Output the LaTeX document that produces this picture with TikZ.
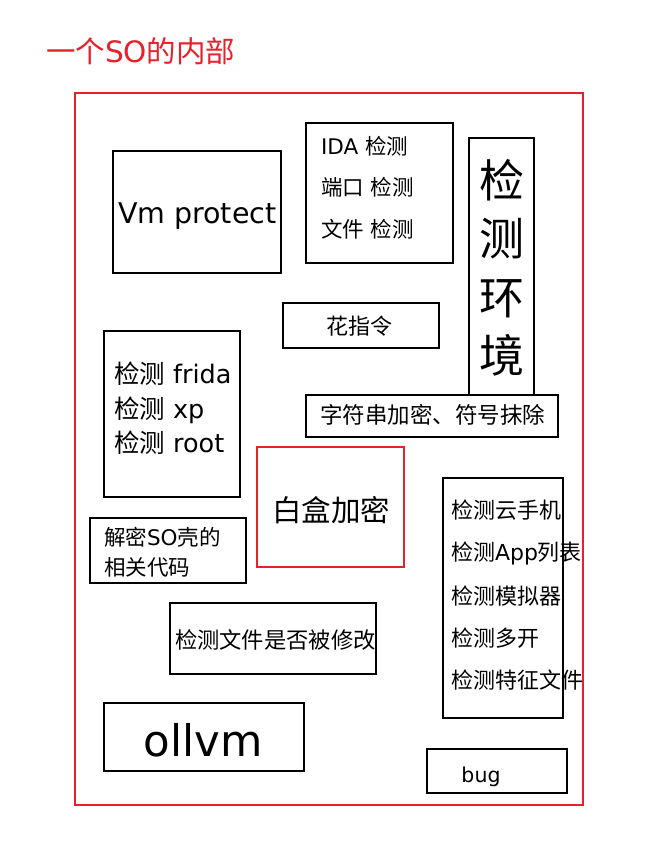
\documentclass[tikz,border=0pt]{standalone}
\usepackage{fontspec}
\setmainfont{Noto Sans CJK SC}
\newfontfamily\lat{DejaVu Sans}
\definecolor{redline}{HTML}{E8202A}
\begin{document}
\begin{tikzpicture}[x=1pt,y=-1pt,
  box/.style={draw=black, line width=2pt, inner sep=0pt, outer sep=0pt},
  redbox/.style={draw=redline, line width=2pt, inner sep=0pt, outer sep=0pt},
  txt/.style={inner sep=0pt, outer sep=0pt, text=black},
  fs/.code={\pgfmathsetmacro\myth{0.88*#1}\pgfmathsetmacro\mytd{0.12*#1}%
    \edef\mytmp{\noexpand\tikzset{font=\noexpand\fontsize{#1}{#1}\noexpand\selectfont,
      text height=\myth pt, text depth=\mytd pt}}\mytmp}]
\useasboundingbox (0,0) rectangle (669,858);
% title
\node[txt, anchor=west, text=redline, fs=29.5] (title) at (46,51) {一个{\lat SO}的内部};
% outer frame
\node[redbox, minimum width=508pt, minimum height=712pt] (outer) at (329,449) {};
% boxes
\node[box, minimum width=168pt, minimum height=122pt] (vm) at (197,212) {};
\node[box, minimum width=147pt, minimum height=140pt] (ida) at (379.5,193) {};
\node[box, minimum width=65pt, minimum height=257pt] (env) at (501.5,266.5) {};
\node[box, minimum width=156pt, minimum height=45pt] (flower) at (361,325.5) {};
\node[box, minimum width=252pt, minimum height=42pt] (str) at (432,416) {};
\node[box, minimum width=136pt, minimum height=166pt] (frida) at (172,414) {};
\node[redbox, minimum width=147pt, minimum height=120pt] (wb) at (330.5,507) {};
\node[box, minimum width=156pt, minimum height=65pt] (shell) at (168,550.5) {};
\node[box, minimum width=120pt, minimum height=240pt] (cloud) at (503,598) {};
\node[box, minimum width=206pt, minimum height=71pt] (mod) at (273,638.5) {};
\node[box, minimum width=200pt, minimum height=68pt] (ollvm) at (204,737) {};
\node[box, minimum width=140pt, minimum height=44pt] (bug) at (497,771) {};
% texts
\node[txt, anchor=west, fs=28.5] (vmt) at (118,213) {\lat Vm protect};
\node[txt, anchor=west, fs=21.5] (ida1) at (321,146) {{\lat IDA }检测};
\node[txt, anchor=west, fs=21.5] (ida2) at (321,187) {端口{\lat\ }检测};
\node[txt, anchor=west, fs=21.5] (ida3) at (321,229) {文件{\lat\ }检测};
\node[txt, fs=45] (env1) at (501.5,180) {检};
\node[txt, fs=45] (env2) at (501.5,238) {测};
\node[txt, fs=45] (env3) at (501.5,297) {环};
\node[txt, fs=45] (env4) at (501.5,355) {境};
\node[txt, fs=22] (flowert) at (359,326) {花指令};
\node[txt, anchor=west, fs=22.5] (strt) at (320,415) {字符串加密、符号抹除};
\node[txt, anchor=west, fs=25.5] (fr1) at (114,374) {检测{\lat\ frida}};
\node[txt, anchor=west, fs=25.5] (fr2) at (114,409) {检测{\lat\ xp}};
\node[txt, anchor=west, fs=25.5] (fr3) at (114,443) {检测{\lat\ root}};
\node[txt, fs=29.5] (wbt) at (331,510) {白盒加密};
\node[txt, anchor=west, fs=21.5] (sh1) at (104,537) {解密{\lat SO}壳的};
\node[txt, anchor=west, fs=21.5] (sh2) at (104,567) {相关代码};
\node[txt, anchor=west, fs=22] (cl1) at (451,510) {检测云手机};
\node[txt, anchor=west, fs=22] (cl2) at (451,552) {检测{\lat App}列表};
\node[txt, anchor=west, fs=22] (cl3) at (451,596) {检测模拟器};
\node[txt, anchor=west, fs=22] (cl4) at (451,638) {检测多开};
\node[txt, anchor=west, fs=22] (cl5) at (451,680) {检测特征文件};
\node[txt, anchor=west, fs=22.3] (modt) at (175,640) {检测文件是否被修改};
\node[txt, fs=43.5] (ollvmt) at (203,740) {\lat ollvm};
\node[txt, fs=20.5] (bugt) at (481,775) {\lat bug};
\end{tikzpicture}
\end{document}
